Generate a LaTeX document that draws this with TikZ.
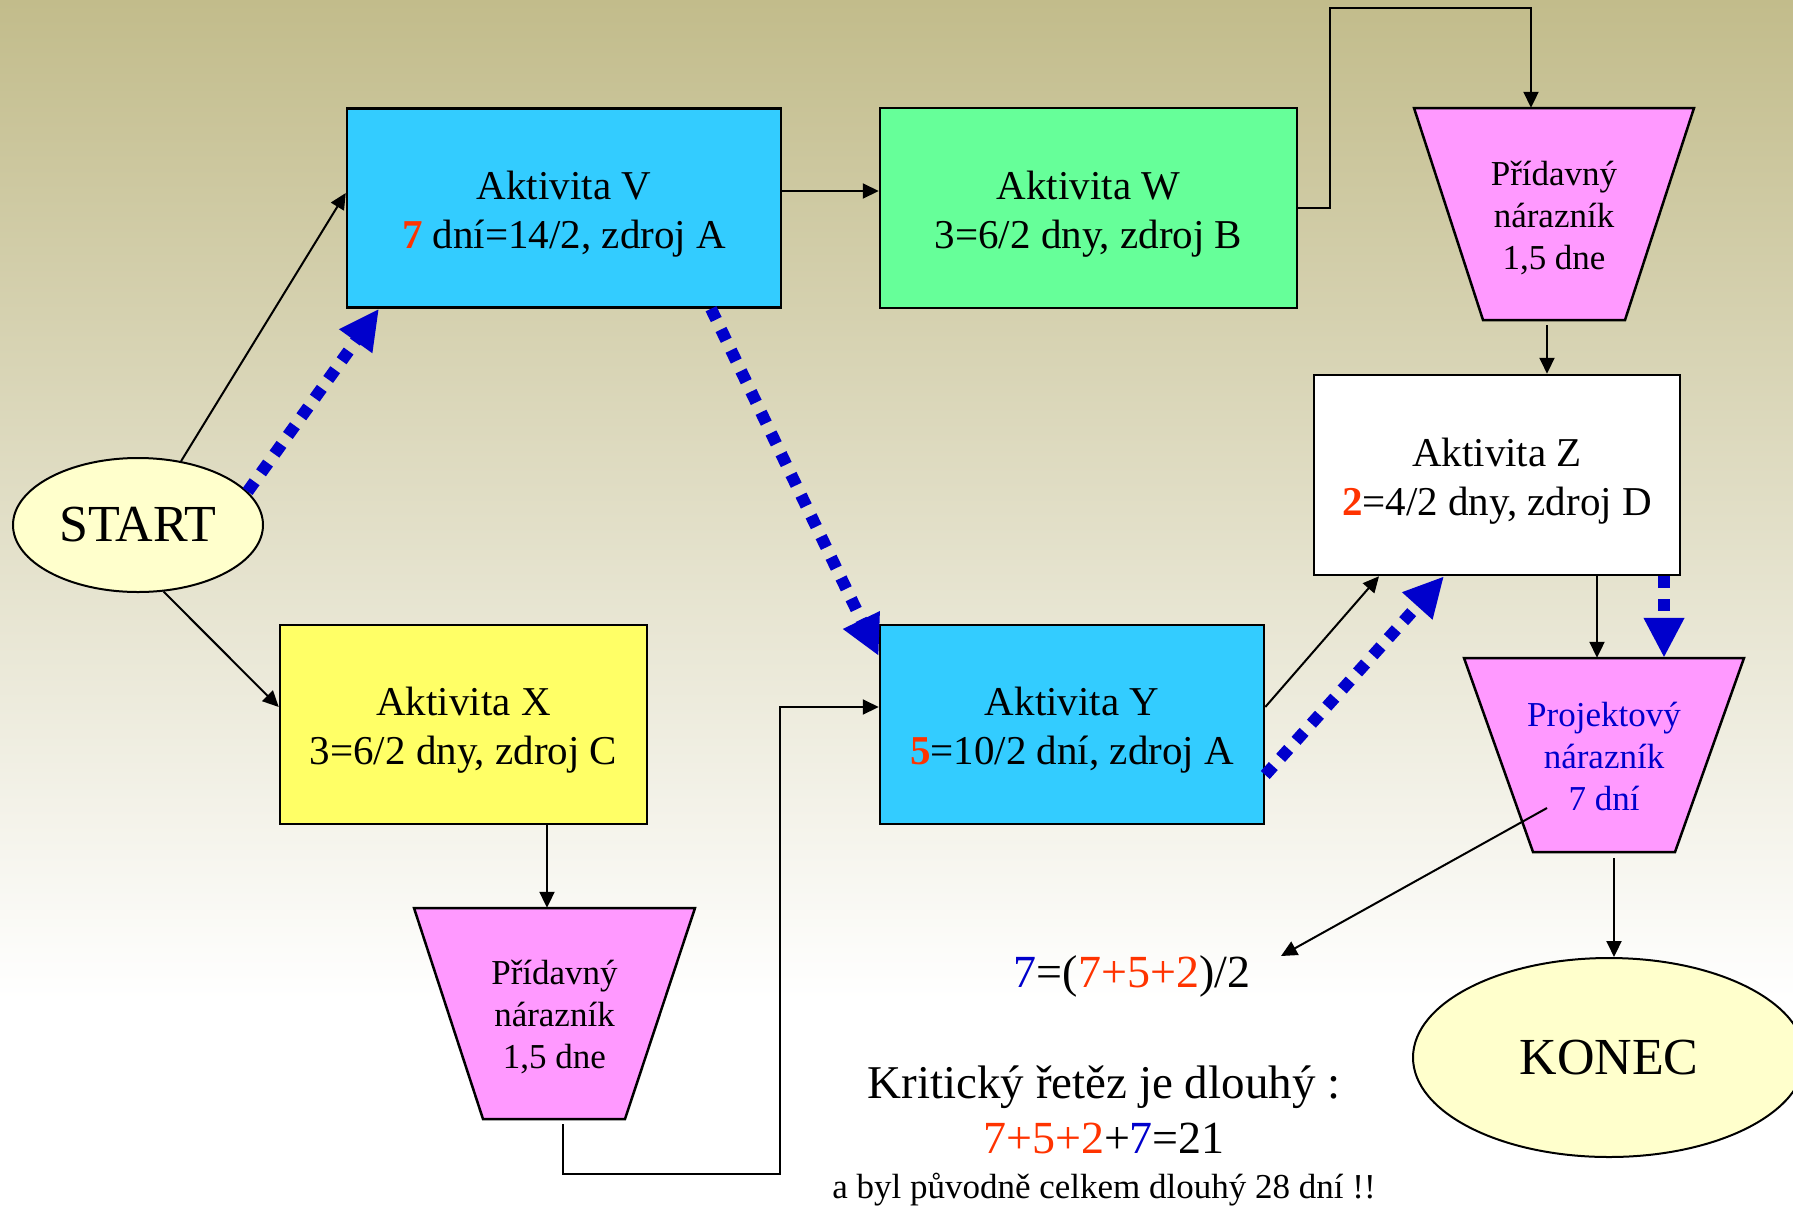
\documentclass[tikz,border=0pt]{standalone}
\usepackage{fontspec}
\setmainfont{Liberation Serif}
\usetikzlibrary{shapes.geometric,arrows.meta,calc}
\definecolor{bgtop}{HTML}{C2BC8B}
\definecolor{cyanb}{HTML}{33CCFF}
\definecolor{greenb}{HTML}{66FF99}
\definecolor{yellowb}{HTML}{FFFF66}
\definecolor{pinkb}{HTML}{FF99FF}
\definecolor{creamb}{HTML}{FFFFCC}
\definecolor{redn}{HTML}{FF3300}
\definecolor{bluen}{HTML}{0000CC}
\begin{document}
\begin{tikzpicture}[x=1pt,y=-1pt,
 actbox/.style={draw=black, line width=2.5pt, rectangle, inner sep=0pt, align=center, font=\fontsize{41}{49}\selectfont},
 bufline/.style={draw=black, line width=2.5pt, fill=pinkb, line join=miter},
 buftext/.style={rectangle, inner sep=0pt, minimum width=280pt, align=center, font=\fontsize{35}{42}\selectfont},
 endpt/.style={draw=black, line width=2pt, ellipse, fill=creamb, inner sep=0pt, font=\fontsize{52}{60}\selectfont},
 conn/.style={line width=2pt, -{Triangle[length=16pt,width=15pt]}},
 critarr/.style={draw=bluen, line width=12pt, dash pattern=on 12pt off 11pt, -{Triangle[length=40pt,width=38pt]}},
 txt/.style={anchor=base, inner sep=0pt}
]
\useasboundingbox (0,0) rectangle (1793,1205);
\shade[top color=bgtop, bottom color=white] (0,0) rectangle (1793,1000);
\fill[white] (0,999) rectangle (1793,1205);

% activity boxes
\node[actbox, fill=cyanb, minimum width=434pt, minimum height=199pt] (V) at (564,208)
 {\rule{0pt}{40pt}Aktivita V\\{\color{redn}\textbf{7}} dní=14/2, zdroj A};
\node[actbox, fill=greenb, minimum width=417pt, minimum height=200pt] (W) at (1088.5,208)
 {\rule{0pt}{40pt}Aktivita W\\3=6/2 dny, zdroj B};
\node[actbox, fill=white, minimum width=366pt, minimum height=200pt] (Z) at (1497,475)
 {\rule{0pt}{40pt}Aktivita Z\\{\color{redn}\textbf{2}}=4/2 dny, zdroj D};
\node[actbox, fill=yellowb, minimum width=367pt, minimum height=199pt] (X) at (463.5,724.5)
 {\rule{0pt}{40pt}Aktivita X\\3=6/2 dny, zdroj C};
\node[actbox, fill=cyanb, minimum width=384pt, minimum height=199pt] (Y) at (1072,724.5)
 {\rule{0pt}{40pt}Aktivita Y\\{\color{redn}\textbf{5}}=10/2 dní, zdroj A};

% buffers (trapezoids, wide side up)
\filldraw[bufline] (1414,108) -- (1694,108) -- (1625,320) -- (1483,320) -- cycle;
\node[buftext, minimum height=212pt] (T1) at (1554,214)
 {\rule{0pt}{32pt}Přídavný\\nárazník\\1,5 dne};
\filldraw[bufline] (414,908) -- (695,908) -- (625,1119) -- (483,1119) -- cycle;
\node[buftext, minimum height=211pt] (T2) at (554.5,1013.5)
 {\rule{0pt}{32pt}Přídavný\\nárazník\\1,5 dne};
\filldraw[bufline] (1464,658) -- (1744,658) -- (1675,852) -- (1533,852) -- cycle;
\node[buftext, minimum height=194pt, text=bluen] (P) at (1604,755)
 {\rule{0pt}{28pt}Projektový\\nárazník\\7 dní};

% start / end
\node[endpt, minimum width=250pt, minimum height=134pt] (S) at (138,525) {START};
\node[endpt, minimum width=392pt, minimum height=199pt] (K) at (1609,1057.5) {KONEC};

% texts
\node[txt, font=\fontsize{46}{54}\selectfont] (F) at (1132,987) {{\color{bluen}7}=({\color{redn}7+5+2})/2};
\node[txt, font=\fontsize{47}{56}\selectfont] (KR) at (1104,1098) {Kritický řetěz je dlouhý :};
\node[txt, font=\fontsize{46}{54}\selectfont] (SUM) at (1104,1153) {{\color{redn}7+5+2}+{\color{bluen}7}=21};
\node[txt, font=\fontsize{35}{42}\selectfont] (ORIG) at (1104,1198) {a byl původně celkem dlouhý 28 dní !!};

% helper coordinates
\coordinate (wup) at (1330,8);
\coordinate (lowc) at (780,1174);
\coordinate (ftip) at (1281,956);

% black connectors
\draw[conn] (S.56.5) -- ([yshift=15pt]V.west);
\draw[conn] (S.-69.5) -- ([yshift=17.5pt]X.west);
\draw[conn] ([yshift=17pt]V.east) -- ([yshift=17pt]W.west);
\draw[conn] (W.east) -| (wup) -| ([xshift=-23pt]T1.north);
\draw[conn] ([xshift=-7pt,yshift=-5pt]T1.south) -- ([xshift=-7pt]T1.south |- Z.north);
\draw[conn] ([xshift=83.5pt]X.south) -- ([xshift=83.5pt]X.south |- T2.north);
\draw[conn] ([xshift=8.5pt,yshift=-5pt]T2.south) |- (lowc) |- ([yshift=17.5pt]Y.west);
\draw[conn] ([yshift=17.5pt]Y.east) -- ([xshift=-118pt]Z.south);
\draw[conn] ([xshift=100pt]Z.south) -- ([xshift=100pt]Z.south |- P.north);
\draw[conn] ([xshift=10pt,yshift=-6pt]P.south) -- ([xshift=10pt]P.south |- K.north);
\draw[conn] ([xshift=-57pt,yshift=-53pt]P.center) -- (ftip);

% critical chain (blue dashed)
\draw[critarr] (S.17.8) -- ([xshift=-185pt]V.south);
\draw[critarr] ([xshift=147pt]V.south) -- ([yshift=68.5pt]Y.west);
\draw[critarr] ([yshift=-50.5pt]Y.east) -- ([xshift=-53pt]Z.south);
\draw[critarr] ([xshift=167pt]Z.south) -- ([xshift=167pt]Z.south |- P.north);
\end{tikzpicture}
\end{document}
